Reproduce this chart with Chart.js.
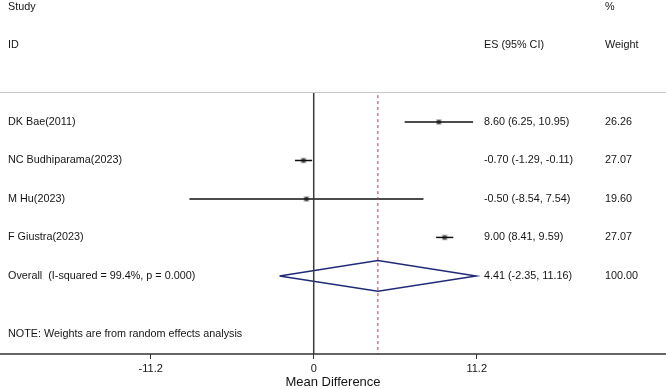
<!DOCTYPE html>
<html>
<head>
<meta charset="utf-8">
<script src="https://cdn.jsdelivr.net/npm/chart.js@4/dist/chart.umd.min.js"></script>
<style>
  html, body { margin: 0; padding: 0; background: #fff; }
  #plot { display: block; }
</style>
</head>
<body>
<canvas id="plot" width="666" height="389"></canvas>
<script>
const studies = ['DK Bae(2011)', 'NC Budhiparama(2023)', 'M Hu(2023)', 'F Giustra(2023)'];
const effect = [8.60, -0.70, -0.50, 9.00];
const lower = [6.25, -1.29, -8.54, 8.41];
const upper = [10.95, -0.11, 7.54, 9.59];
const weights = [26.26, 27.07, 19.60, 27.07];

const overallLabel = 'Overall  (I-squared = 99.4%, p = 0.000)';
const overallEffect = 4.41;
const overallLower = -2.35;
const overallUpper = 11.16;
const overallWeight = 100.00;

const xTicks = [-11.2, 0, 11.2];
const noteText = 'NOTE: Weights are from random effects analysis';

const FONT = '"Liberation Sans", Arial, sans-serif';
const rows = studies.map((_, i) => i + 1);
const overallRow = studies.length + 1;
const yMin = 0.22, yMax = 7.03;

function fmt(v) { return v.toFixed(2); }

const datasets = [];

// line of no effect
datasets.push({
    data: [{ x: 0, y: yMin }, { x: 0, y: yMax }],
    borderColor: '#3a3a3a', borderWidth: 1.5, pointRadius: 0
});
// overall effect dashed line
datasets.push({
    data: [{ x: overallEffect, y: yMin + 0.08 }, { x: overallEffect, y: yMax }],
    borderColor: '#a83a4c', borderWidth: 1, borderDash: [3, 3], pointRadius: 0
});
// confidence intervals
studies.forEach((s, i) => {
    datasets.push({
        data: [{ x: lower[i], y: rows[i] }, { x: upper[i], y: rows[i] }],
        borderColor: '#111', borderWidth: 1.5, pointRadius: 0
    });
});
// weight boxes
datasets.push({
    data: effect.map((v, i) => ({ x: v, y: rows[i] })),
    showLine: false, pointStyle: 'rect', pointRadius: 4,
    backgroundColor: 'rgba(140,140,140,0.6)', borderWidth: 0
});
// point estimates
datasets.push({
    data: effect.map((v, i) => ({ x: v, y: rows[i] })),
    showLine: false, pointStyle: 'circle', pointRadius: 2.2,
    backgroundColor: '#000', borderWidth: 0
});
// overall diamond
datasets.push({
    data: [
        { x: overallLower, y: overallRow },
        { x: overallEffect, y: overallRow - 0.4 },
        { x: overallUpper, y: overallRow },
        { x: overallEffect, y: overallRow + 0.4 },
        { x: overallLower, y: overallRow }
    ],
    borderColor: '#1f2a78', borderWidth: 1.5, pointRadius: 0, tension: 0
});

const textPlugin = {
    id: 'forestText',
    afterDraw(chart) {
        const ctx = chart.ctx;
        const ys = chart.scales.y;
        const area = chart.chartArea;
        ctx.save();
        // top rule
        ctx.strokeStyle = '#c8c8c8';
        ctx.lineWidth = 1.2;
        ctx.beginPath();
        ctx.moveTo(0, area.top + 0.5);
        ctx.lineTo(chart.width, area.top + 0.5);
        ctx.stroke();
        // x axis rule across the whole width
        ctx.strokeStyle = '#333';
        ctx.lineWidth = 1.3;
        ctx.beginPath();
        ctx.moveTo(0, area.bottom);
        ctx.lineTo(chart.width, area.bottom);
        ctx.stroke();

        ctx.fillStyle = '#151515';
        ctx.font = '10.8px ' + FONT;
        ctx.textBaseline = 'middle';
        ctx.textAlign = 'left';
        const colLabel = 8, colEs = 484, colW = 605;

        ctx.fillText('Study', colLabel, ys.getPixelForValue(-2));
        ctx.fillText('%', colW, ys.getPixelForValue(-2));
        ctx.fillText('ID', colLabel, ys.getPixelForValue(-1));
        ctx.fillText('ES (95% CI)', colEs, ys.getPixelForValue(-1));
        ctx.fillText('Weight', colW, ys.getPixelForValue(-1));

        studies.forEach((s, i) => {
            const y = ys.getPixelForValue(rows[i]);
            ctx.fillText(s, colLabel, y);
            ctx.fillText(fmt(effect[i]) + ' (' + fmt(lower[i]) + ', ' + fmt(upper[i]) + ')', colEs, y);
            ctx.fillText(fmt(weights[i]), colW, y);
        });
        const yo = ys.getPixelForValue(overallRow);
        ctx.fillText(overallLabel, colLabel, yo);
        ctx.fillText(fmt(overallEffect) + ' (' + fmt(overallLower) + ', ' + fmt(overallUpper) + ')', colEs, yo);
        ctx.fillText(fmt(overallWeight), colW, yo);

        ctx.fillText(noteText, colLabel, ys.getPixelForValue(overallRow + 1.5));
        ctx.restore();
    }
};

new Chart(document.getElementById('plot'), {
    type: 'line',
    data: { datasets: datasets },
    options: {
        responsive: false,
        animation: false,
        layout: { padding: { top: 92, left: 0, right: 0, bottom: 0 } },
        plugins: { legend: { display: false }, tooltip: { enabled: false } },
        scales: {
            x: {
                type: 'linear',
                min: -21.28,
                max: 23.93,
                afterBuildTicks: (scale) => { scale.ticks = xTicks.map(v => ({ value: v })); },
                afterFit: (scale) => { scale.height = 35; },
                grid: { drawOnChartArea: false, drawTicks: true, tickLength: 5, color: '#333' },
                border: { display: false },
                ticks: {
                    color: '#151515', padding: 3, maxRotation: 0, autoSkip: false,
                    font: { family: FONT, size: 11 },
                    callback: (v) => String(v)
                },
                title: {
                    display: true, text: 'Mean Difference', color: '#151515',
                    font: { family: FONT, size: 13 }, padding: { top: 0, bottom: -1 }
                }
            },
            y: { type: 'linear', display: false, reverse: true, min: yMin, max: yMax }
        }
    },
    plugins: [textPlugin]
});
</script>
</body>
</html>
